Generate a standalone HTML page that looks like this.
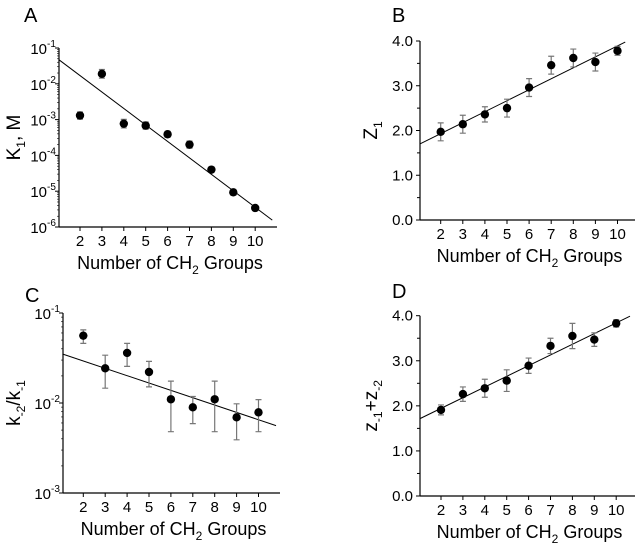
<!DOCTYPE html>
<html><head><meta charset="utf-8"><style>
body{margin:0;background:#fff;}
svg{display:block;font-family:"Liberation Sans",Arial,sans-serif;}
</style></head><body>
<svg id="fig" width="640" height="543" viewBox="0 0 640 543"></svg>
<script>
const categories=[2,3,4,5,6,7,8,9,10];
const aValues=[1.3e-3,1.9e-2,7.7e-4,6.8e-4,3.9e-4,2.0e-4,4.0e-5,9.3e-6,3.4e-6];
const aErr=[0.1,0.12,0.12,0.1,0.08,0.1,0.06,0.08,0.06];
const aFit=[-0.85,-0.46];
const bValues=[1.97,2.14,2.36,2.50,2.96,3.46,3.62,3.53,3.78];
const bErr=[0.2,0.2,0.17,0.2,0.2,0.2,0.2,0.2,0.1];
const bFit=[1.44,0.245];
const cValues=[0.056,0.0243,0.036,0.0221,0.011,0.00895,0.011,0.00693,0.00787];
const cErrHi=[0.065,0.034,0.046,0.029,0.0175,0.0118,0.0175,0.0098,0.0109];
const cErrLo=[0.046,0.0146,0.0255,0.0151,0.0048,0.0059,0.0048,0.0039,0.0048];
const cFit=[-1.37,-0.0816];
const dValues=[1.91,2.26,2.39,2.56,2.89,3.33,3.55,3.47,3.83];
const dErr=[0.11,0.16,0.2,0.24,0.17,0.17,0.28,0.15,0.08];
const dFit=[1.47,0.237];
const linTicks=["0.0","1.0","2.0","3.0","4.0"];

const NS="http://www.w3.org/2000/svg";
const svg=document.getElementById('fig');
function mk(tag,attrs,parent,text){const e=document.createElementNS(NS,tag);for(const k in attrs)e.setAttribute(k,attrs[k]);if(text!==undefined)e.textContent=text;(parent||svg).appendChild(e);return e;}

function panel(o){
  const g=mk('g',{});
  
  
  const X=v=>o.x2+(v-2)*o.ux;
  const Y=v=>{const t=o.log?Math.log10(v):v;return o.bottom-(t-o.ymin)*(o.bottom-o.top)/(o.ymax-o.ymin);};
  const YL=t=>o.bottom-(t-o.ymin)*(o.bottom-o.top)/(o.ymax-o.ymin);
  const ya=mk('line',{x1:o.left,y1:o.top,x2:o.left,y2:o.bottom,stroke:'#000','stroke-width':1.2},g);
  
  const xa=mk('line',{x1:o.left,y1:o.bottom,x2:o.right,y2:o.bottom,stroke:'#000','stroke-width':1.2},g);
  
  categories.forEach(c=>{
    mk('line',{x1:X(c),y1:o.bottom,x2:X(c),y2:o.bottom+4,stroke:'#000'},g);
    const t=mk('text',{x:X(c),y:o.bottom+19,'font-size':15,'text-anchor':'middle'},g,String(c));
    
  });
  if(o.log){
    for(let e=o.ymin;e<=o.ymax;e++){
      const y=YL(e);
      mk('line',{x1:o.left-4,y1:y,x2:o.left,y2:y,stroke:'#000'},g);
      const t=mk('text',{x:o.left-12,y:y+6,'font-size':15,'text-anchor':'end'},g,'10');
      
      mk('text',{x:o.left-12,y:y-1,'font-size':10,'text-anchor':'start'},g,String(e));
      if(e<o.ymax){for(let k=2;k<10;k++){const yy=YL(e+Math.log10(k));mk('line',{x1:o.left-2,y1:yy,x2:o.left,y2:yy,stroke:'#000','stroke-width':0.6},g);}}
    }
  } else {
    linTicks.forEach((s,i)=>{
      const y=YL(+s);
      mk('line',{x1:o.left-4,y1:y,x2:o.left,y2:y,stroke:'#000'},g);
      if(i<4){const yh=YL(+s+0.5);mk('line',{x1:o.left-3,y1:yh,x2:o.left,y2:yh,stroke:'#000'},g);}
      const t=mk('text',{x:o.left-7,y:y+5,'font-size':15,'text-anchor':'end'},g,s);
      
    });
  }
  const f=x=>o.log?Math.pow(10,o.fit[0]+o.fit[1]*x):o.fit[0]+o.fit[1]*x;
  const fl=mk('line',{x1:X(o.fx0),y1:Y(f(o.fx0)),x2:X(o.fx1),y2:Y(f(o.fx1)),stroke:'#000','stroke-width':1},g);
  
  categories.forEach((c,i)=>{
    const v=o.vals[i];const hi=o.hi(i),lo=o.lo(i);const x=X(c);
    const eb=mk('path',{d:`M${x},${Y(hi)}V${Y(lo)}M${x-3},${Y(hi)}h6M${x-3},${Y(lo)}h6`,stroke:'#777','stroke-width':1.2,fill:'none'},g);
    
    const p=mk('circle',{cx:x,cy:Y(v),r:4.2,fill:'#000'},g);
    
  });
  const xt=mk('text',{x:(o.left+o.right)/2+2,y:o.bottom+42,'font-size':18,'text-anchor':'middle'},g);
  
  mk('tspan',{},xt,'Number of CH');mk('tspan',{dy:5,'font-size':12},xt,'2');mk('tspan',{dy:-5},xt,' Groups');
  const cy=(o.top+o.bottom)/2;
  const yt=mk('text',{x:0,y:0,'font-size':19,'text-anchor':'middle',transform:`translate(${o.ytx},${cy}) rotate(-90)`},g);
  
  o.ytitle(yt);
  const lb=mk('text',{x:o.lx,y:o.ly,'font-size':20},g,o.id);
  
}

panel({id:'A',log:true,left:59,right:277,top:48,bottom:227,ymin:-6,ymax:-1,x2:80,ux:21.9,vals:aValues,
  hi:i=>aValues[i]*Math.pow(10,aErr[i]),lo:i=>aValues[i]/Math.pow(10,aErr[i]),fit:aFit,fx0:1.05,fx1:10.78,
  ytx:20,ytitle:t=>{mk('tspan',{},t,'K');mk('tspan',{dy:5,'font-size':12},t,'1');mk('tspan',{dy:-5},t,', M');},lx:24,ly:22});
panel({id:'B',log:false,left:420,right:635,top:41,bottom:220,ymin:0,ymax:4,x2:440.7,ux:22.1,vals:bValues,
  hi:i=>bValues[i]+bErr[i],lo:i=>bValues[i]-bErr[i],fit:bFit,fx0:1.06,fx1:10.35,
  ytx:377,ytitle:t=>{mk('tspan',{},t,'Z');mk('tspan',{dy:5,'font-size':12},t,'1');},lx:392,ly:22});
panel({id:'C',log:true,left:63,right:280,top:313,bottom:493,ymin:-3,ymax:-1,x2:83.3,ux:21.9,vals:cValues,
  hi:i=>cErrHi[i],lo:i=>cErrLo[i],fit:cFit,fx0:1.05,fx1:10.8,
  ytx:20,ytitle:t=>{mk('tspan',{},t,'k');mk('tspan',{dy:5,'font-size':12},t,'-2');mk('tspan',{dy:-5},t,'/k');mk('tspan',{dy:5,'font-size':12},t,'-1');},lx:25,ly:302});
panel({id:'D',log:false,left:420,right:635,top:315.7,bottom:496,ymin:0,ymax:4,x2:441,ux:21.9,vals:dValues,
  hi:i=>dValues[i]+dErr[i],lo:i=>dValues[i]-dErr[i],fit:dFit,fx0:1.04,fx1:10.63,
  ytx:377,ytitle:t=>{mk('tspan',{},t,'z');mk('tspan',{dy:5,'font-size':12},t,'-1');mk('tspan',{dy:-5},t,'+z');mk('tspan',{dy:5,'font-size':12},t,'-2');},lx:392,ly:298});
</script>
</body></html>
